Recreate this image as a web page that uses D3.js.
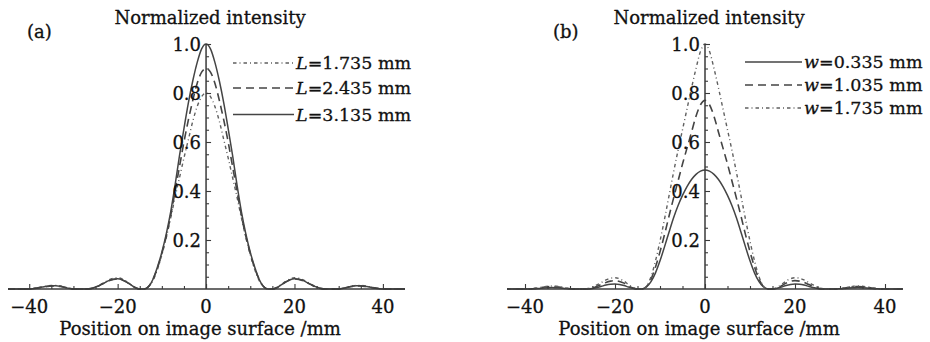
<!DOCTYPE html>
<html>
<head>
<meta charset="utf-8">
<script src="https://cdn.jsdelivr.net/npm/d3@7/dist/d3.min.js"></script>
<style>
  html, body { margin: 0; padding: 0; background: #fff; }
  svg { display: block; }
  text { font-family: "DejaVu Serif", serif; fill: #111; stroke: #111; stroke-width: 0.3px; }
</style>
</head>
<body>
<script>
// ---------------- DATA ----------------
// Positions on image surface (mm)
const positions = [-45,-44,-43,-42,-41,-40,-39,-38,-37,-36,-35,-34,-33,-32,-31,-30,-29,-28,-27,-26,-25,-24,-23,-22,-21,-20,-19,-18,-17,-16,-15,-14,-13,-12,-11,-10,-9,-8,-7,-6,-5,-4,-3,-2,-1,
  0,1,2,3,4,5,6,7,8,9,10,11,12,13,14,15,16,17,18,19,20,21,22,23,24,25,26,27,28,29,30,31,32,33,34,35,36,37,38,39,40,41,42,43,44,45];

// Panel (a): L series
const seriesLabelsA = ["1.735 mm", "2.435 mm", "3.135 mm"];
const intensityL1735 = [0,0,0,0,0,0,0.002,0.005,0.009,0.012,0.015,0.015,0.012,0.008,0.003,0,0,0,0,0.002,0.008,0.017,0.027,0.037,0.044,0.046,0.041,0.031,0.018,0.006,0,0,0.01,0.035,0.08,0.14,0.21,0.29,0.375,0.455,0.535,0.61,0.685,0.745,0.785,
  0.8,
  0.785,0.745,0.685,0.61,0.535,0.455,0.375,0.29,0.21,0.14,0.08,0.035,0.01,0,0,0.006,0.018,0.031,0.041,0.046,0.044,0.037,0.027,0.017,0.008,0.002,0,0,0,0,0.003,0.008,0.012,0.015,0.015,0.012,0.009,0.005,0.002,0,0,0,0,0,0];
const intensityL2435 = [0,0,0,0,0,0,0.002,0.004,0.007,0.01,0.012,0.012,0.01,0.007,0.003,0,0,0,0,0.002,0.007,0.015,0.024,0.033,0.039,0.041,0.037,0.028,0.016,0.005,0,0,0.01,0.04,0.085,0.145,0.215,0.3,0.4,0.5,0.6,0.69,0.77,0.84,0.885,
  0.9,
  0.885,0.84,0.77,0.69,0.6,0.5,0.4,0.3,0.215,0.145,0.085,0.04,0.01,0,0,0.005,0.016,0.028,0.037,0.041,0.039,0.033,0.024,0.015,0.007,0.002,0,0,0,0,0.003,0.007,0.01,0.012,0.012,0.01,0.007,0.004,0.002,0,0,0,0,0,0];
const intensityL3135 = [0,0,0,0,0,0,0.002,0.005,0.008,0.011,0.013,0.013,0.011,0.007,0.003,0,0,0,0,0.002,0.008,0.016,0.025,0.034,0.04,0.042,0.038,0.029,0.017,0.006,0,0,0.01,0.04,0.09,0.15,0.225,0.315,0.425,0.545,0.655,0.76,0.85,0.925,0.98,
  1.0,
  0.98,0.925,0.85,0.76,0.655,0.545,0.425,0.315,0.225,0.15,0.09,0.04,0.01,0,0,0.006,0.017,0.029,0.038,0.042,0.04,0.034,0.025,0.016,0.008,0.002,0,0,0,0,0.003,0.007,0.011,0.013,0.013,0.011,0.008,0.005,0.002,0,0,0,0,0,0];

// Panel (b): w series
const seriesLabelsB = ["0.335 mm", "1.035 mm", "1.735 mm"];
const intensityW0335 = [0,0,0,0,0,0,0,0.001,0.002,0.004,0.005,0.006,0.005,0.004,0.002,0.001,0,0,0,0,0.002,0.006,0.011,0.016,0.019,0.02,0.018,0.014,0.008,0.003,0,0,0.008,0.03,0.066,0.115,0.172,0.232,0.29,0.34,0.382,0.418,0.447,0.468,0.481,
  0.486,
  0.481,0.468,0.447,0.418,0.382,0.34,0.29,0.232,0.172,0.115,0.066,0.03,0.008,0,0,0.003,0.008,0.014,0.018,0.02,0.019,0.016,0.011,0.006,0.002,0,0,0,0,0.001,0.002,0.004,0.005,0.006,0.005,0.004,0.002,0.001,0,0,0,0,0,0,0];
const intensityW1035 = [0,0,0,0,0,0,0,0.002,0.004,0.007,0.009,0.01,0.009,0.007,0.004,0.001,0,0,0,0.001,0.004,0.011,0.019,0.027,0.032,0.034,0.031,0.024,0.013,0.004,0,0,0.01,0.04,0.09,0.152,0.222,0.297,0.37,0.44,0.51,0.575,0.64,0.705,0.752,
  0.77,
  0.752,0.705,0.64,0.575,0.51,0.44,0.37,0.297,0.222,0.152,0.09,0.04,0.01,0,0,0.004,0.013,0.024,0.031,0.034,0.032,0.027,0.019,0.011,0.004,0.001,0,0,0,0.001,0.004,0.007,0.009,0.01,0.009,0.007,0.004,0.002,0,0,0,0,0,0,0];
const intensityW1735 = [0,0,0,0,0,0,0,0.002,0.005,0.008,0.011,0.012,0.011,0.008,0.004,0.001,0,0,0,0.002,0.008,0.017,0.027,0.037,0.044,0.046,0.042,0.032,0.018,0.006,0,0,0.012,0.05,0.115,0.195,0.285,0.38,0.475,0.565,0.65,0.735,0.82,0.9,0.97,
  1.0,
  0.97,0.9,0.82,0.735,0.65,0.565,0.475,0.38,0.285,0.195,0.115,0.05,0.012,0,0,0.006,0.018,0.032,0.042,0.046,0.044,0.037,0.027,0.017,0.008,0.002,0,0,0,0.001,0.004,0.008,0.011,0.012,0.011,0.008,0.005,0.002,0,0,0,0,0,0,0];

const xTickValues = [-40, -20, 0, 20, 40];
const yTickValues = [0.2, 0.4, 0.6, 0.8, 1.0];
const yTickLabels = ["0.2", "0.4", "0.6", "0.8", "1.0"];
const yTitle = "Normalized intensity";
const xTitle = "Position on image surface /mm";
const panelTags = ["(a)", "(b)"];

// ---------------- STYLES / LAYOUT ----------------
const styles = {
  solid:   { dash: null,        color: "#444", width: 1.5 },
  dashed:  { dash: "8,5",       color: "#444", width: 1.6 },
  dashdot: { dash: "3.5,3,1,3", color: "#606060", width: 1.4 }
};

const panels = [
  {
    tag: panelTags[0], xDomain: [-44.8, 45], xRange: [8, 405],
    tagX: 27, titleX: 210,
    legendX1: 233, legendX2: 294, legendRows: [63, 88, 114.5], legendVar: "L",
    series: [
      { values: intensityL1735, style: "dashdot", label: seriesLabelsA[0] },
      { values: intensityL2435, style: "dashed",  label: seriesLabelsA[1] },
      { values: intensityL3135, style: "solid",   label: seriesLabelsA[2] }
    ]
  },
  {
    tag: panelTags[1], xDomain: [-44, 44], xRange: [507, 903],
    tagX: 553, titleX: 709,
    legendX1: 745, legendX2: 802, legendRows: [62, 85, 108], legendVar: "w",
    series: [
      { values: intensityW0335, style: "solid",   label: seriesLabelsB[0] },
      { values: intensityW1035, style: "dashed",  label: seriesLabelsB[1] },
      { values: intensityW1735, style: "dashdot", label: seriesLabelsB[2] }
    ]
  }
];

const W = 930, H = 342;
const FS = 18;
const svg = d3.select("body").append("svg").attr("width", W).attr("height", H)
  .attr("viewBox", `0 0 ${W} ${H}`);
svg.append("rect").attr("width", W).attr("height", H).attr("fill", "#fff");

const y = d3.scaleLinear().domain([0, 1]).range([289, 44]);
const axisColor = "#3a3a3a";

panels.forEach((p, pi) => {
  const x = d3.scaleLinear().domain(p.xDomain).range(p.xRange);
  const g = svg.append("g");
  const x0 = x(0);

  const clipId = "clip" + pi;
  svg.append("clipPath").attr("id", clipId).append("rect")
    .attr("x", p.xRange[0]).attr("y", 0)
    .attr("width", p.xRange[1] - p.xRange[0]).attr("height", 300);

  const line = d3.line()
    .x((d, i) => x(positions[i]))
    .y(d => y(d))
    .curve(d3.curveMonotoneX);

  const curveG = g.append("g").attr("clip-path", `url(#${clipId})`);
  p.series.forEach(s => {
    const st = styles[s.style];
    curveG.append("path")
      .attr("d", line(s.values))
      .attr("fill", "none")
      .attr("stroke", st.color)
      .attr("stroke-width", st.width)
      .attr("stroke-dasharray", st.dash);
  });

  // x axis (ticks pointing up)
  const xMajor = d3.axisTop(x).tickValues(xTickValues).tickSize(5).tickFormat("");
  const minorVals = d3.range(-40, 41, 5).filter(v => v % 20 !== 0);
  const xMinor = d3.axisTop(x).tickValues(minorVals).tickSize(3).tickFormat("");
  const gx1 = g.append("g").attr("transform", "translate(0,289)").call(xMajor);
  const gx2 = g.append("g").attr("transform", "translate(0,289)").call(xMinor);
  [gx1, gx2].forEach(a => {
    a.select(".domain").remove();
    a.selectAll("line").attr("stroke", axisColor).attr("stroke-width", 1.1);
  });
  g.append("line").attr("x1", p.xRange[0]).attr("x2", p.xRange[1])
    .attr("y1", 289).attr("y2", 289).attr("stroke", axisColor).attr("stroke-width", 1.5);

  g.selectAll(".xl").data(xTickValues).enter().append("text")
    .attr("x", d => x(d)).attr("y", 313)
    .attr("text-anchor", "middle").attr("font-size", FS)
    .text(d => d < 0 ? "\u2212" + Math.abs(d) : String(d));

  // y axis (ticks pointing right)
  const yMinorVals = d3.range(0.05, 1.0, 0.05).filter(v => Math.abs(v * 5 - Math.round(v * 5)) > 1e-6);
  const yMajor = d3.axisRight(y).tickValues(yTickValues).tickSize(5).tickFormat("");
  const yMinor = d3.axisRight(y).tickValues(yMinorVals).tickSize(3).tickFormat("");
  const gy1 = g.append("g").attr("transform", `translate(${x0},0)`).call(yMajor);
  const gy2 = g.append("g").attr("transform", `translate(${x0},0)`).call(yMinor);
  [gy1, gy2].forEach(a => {
    a.select(".domain").remove();
    a.selectAll("line").attr("stroke", axisColor).attr("stroke-width", 1.1);
  });
  g.append("line").attr("x1", x0).attr("x2", x0)
    .attr("y1", 289).attr("y2", y(1)).attr("stroke", axisColor).attr("stroke-width", 1.5);

  g.selectAll(".yl").data(yTickValues).enter().append("text")
    .attr("x", x0 - 5).attr("y", d => y(d) + 6.5)
    .attr("text-anchor", "end").attr("font-size", FS)
    .text((d, i) => yTickLabels[i]);

  g.append("text").attr("x", p.titleX).attr("y", 24).attr("text-anchor", "middle")
    .attr("font-size", FS).text(yTitle);
  g.append("text").attr("x", x0 - 6).attr("y", 335).attr("text-anchor", "middle")
    .attr("font-size", FS).text(xTitle);
  g.append("text").attr("x", p.tagX).attr("y", 38).attr("font-size", FS).text(p.tag);

  // legend
  p.series.forEach((s, i) => {
    const st = styles[s.style];
    const ry = p.legendRows[i];
    g.append("line").attr("x1", p.legendX1).attr("x2", p.legendX2)
      .attr("y1", ry).attr("y2", ry)
      .attr("stroke", st.color).attr("stroke-width", st.width)
      .attr("stroke-dasharray", st.dash);
    const t = g.append("text").attr("x", p.legendX2 + 2).attr("y", ry + 6)
      .attr("font-size", 17.5);
    t.append("tspan").attr("font-style", "italic").text(p.legendVar);
    t.append("tspan").text("=" + s.label);
  });
});
</script>
</body>
</html>
